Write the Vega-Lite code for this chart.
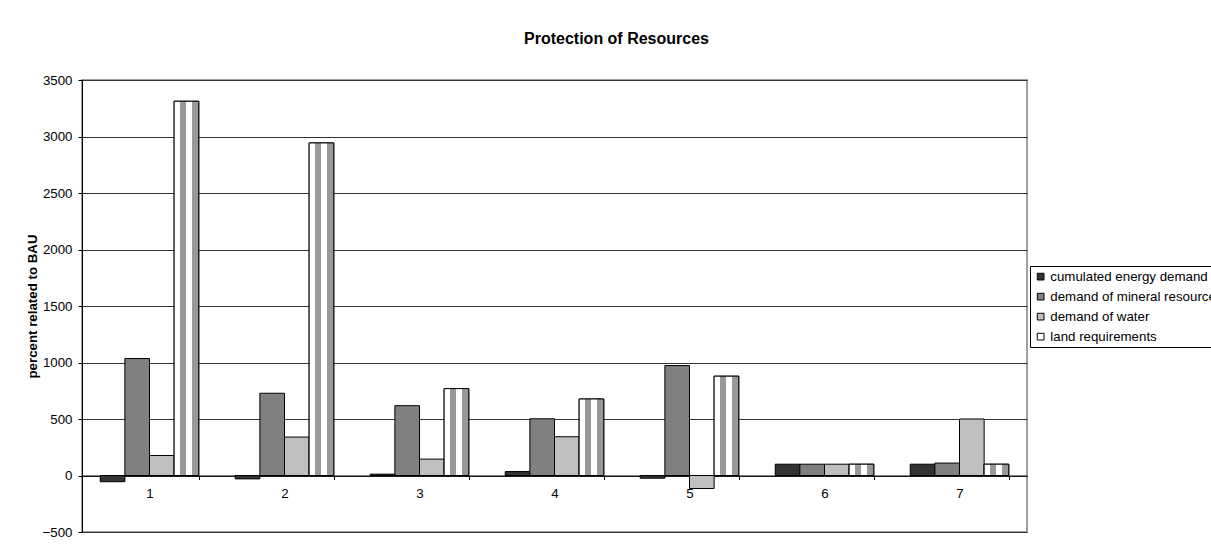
{
  "$schema": "https://vega.github.io/schema/vega-lite/v6.json",
  "autosize": {"type": "none"},
  "width": 945,
  "height": 452,
  "padding": {"left": 82, "top": 80, "right": 184, "bottom": 12},
  "background": "white",
  "title": {
    "text": "Protection of Resources",
    "font": "Liberation Sans",
    "fontSize": 16,
    "fontWeight": "bold",
    "color": "#000000",
    "anchor": "middle",
    "frame": "group",
    "dx": 62,
    "offset": 26
  },
  "config": {
    "font": "Liberation Sans",
    "view": {"stroke": "#808080", "strokeWidth": 1.5}
  },
  "data": {
    "values": [
      {"cat": "1", "series": "cumulated energy demand", "value": -55},
      {"cat": "1", "series": "demand of mineral resources", "value": 1035},
      {"cat": "1", "series": "demand of water", "value": 177},
      {"cat": "1", "series": "land requirements", "value": 3312},
      {"cat": "2", "series": "cumulated energy demand", "value": -30},
      {"cat": "2", "series": "demand of mineral resources", "value": 728},
      {"cat": "2", "series": "demand of water", "value": 340},
      {"cat": "2", "series": "land requirements", "value": 2943},
      {"cat": "3", "series": "cumulated energy demand", "value": 12},
      {"cat": "3", "series": "demand of mineral resources", "value": 618},
      {"cat": "3", "series": "demand of water", "value": 145},
      {"cat": "3", "series": "land requirements", "value": 769},
      {"cat": "4", "series": "cumulated energy demand", "value": 35},
      {"cat": "4", "series": "demand of mineral resources", "value": 502},
      {"cat": "4", "series": "demand of water", "value": 343},
      {"cat": "4", "series": "land requirements", "value": 677},
      {"cat": "5", "series": "cumulated energy demand", "value": -24},
      {"cat": "5", "series": "demand of mineral resources", "value": 973},
      {"cat": "5", "series": "demand of water", "value": -115},
      {"cat": "5", "series": "land requirements", "value": 879},
      {"cat": "6", "series": "cumulated energy demand", "value": 100},
      {"cat": "6", "series": "demand of mineral resources", "value": 100},
      {"cat": "6", "series": "demand of water", "value": 100},
      {"cat": "6", "series": "land requirements", "value": 100},
      {"cat": "7", "series": "cumulated energy demand", "value": 100},
      {"cat": "7", "series": "demand of mineral resources", "value": 110},
      {"cat": "7", "series": "demand of water", "value": 500},
      {"cat": "7", "series": "land requirements", "value": 100}
    ]
  },
  "encoding": {
    "x": {
      "field": "cat",
      "type": "nominal",
      "scale": {"paddingInner": 0.27, "paddingOuter": 0.135},
      "axis": {
        "title": null,
        "orient": "bottom",
        "offset": -56.5,
        "labelAngle": 0,
        "labelFontSize": 13.3,
        "labelColor": "#000000",
        "labelPadding": 7,
        "tickBand": "extent",
        "tickSize": 4,
        "tickColor": "#000000",
        "domainColor": "#000000",
        "grid": false
      }
    },
    "xOffset": {
      "field": "series",
      "type": "nominal",
      "scale": {
        "domain": ["cumulated energy demand", "demand of mineral resources", "demand of water", "land requirements"],
        "paddingInner": 0,
        "paddingOuter": 0
      }
    },
    "y": {
      "field": "value",
      "type": "quantitative",
      "scale": {"domain": [-500, 3500], "nice": false, "zero": true},
      "axis": {
        "title": "percent related to BAU",
        "titleFontSize": 13.3,
        "titleFontWeight": "bold",
        "titleColor": "#000000",
        "titlePadding": 3,
        "format": "d",
        "values": [-500, 0, 500, 1000, 1500, 2000, 2500, 3000, 3500],
        "labelFontSize": 13.3,
        "labelColor": "#000000",
        "labelPadding": 6,
        "tickSize": 4,
        "tickColor": "#000000",
        "domainColor": "#000000",
        "grid": true,
        "gridColor": "#333333",
        "gridWidth": 1
      }
    }
  },
  "layer": [
    {
      "mark": {"type": "bar", "stroke": "#000000", "strokeWidth": 1},
      "encoding": {
        "color": {
          "field": "series",
          "type": "nominal",
          "scale": {
            "domain": ["cumulated energy demand", "demand of mineral resources", "demand of water", "land requirements"],
            "range": ["#333333", "#808080", "#c0c0c0", "#ffffff"]
          },
          "legend": {
            "title": null,
            "orient": "none",
            "legendX": 948,
            "legendY": 186,
            "direction": "vertical",
            "symbolType": "square",
            "symbolSize": 45,
            "symbolStrokeColor": "#000000",
            "symbolStrokeWidth": 1,
            "labelFontSize": 13.3,
            "labelColor": "#000000",
            "labelOffset": 3,
            "labelLimit": 300,
            "rowPadding": 6,
            "padding": 4,
            "strokeColor": "#000000",
            "fillColor": "#ffffff"
          }
        }
      }
    },
    {
      "transform": [{"filter": "datum.series === 'land requirements'"}],
      "mark": {
        "type": "bar",
        "stroke": "#000000",
        "strokeWidth": 1,
        "fill": {
          "gradient": "linear",
          "x1": 0, "y1": 0, "x2": 1, "y2": 0,
          "stops": [
            {"offset": 0, "color": "#ffffff"},
            {"offset": 0.25, "color": "#ffffff"},
            {"offset": 0.25, "color": "#999999"},
            {"offset": 0.5, "color": "#999999"},
            {"offset": 0.5, "color": "#ffffff"},
            {"offset": 0.74, "color": "#ffffff"},
            {"offset": 0.74, "color": "#999999"},
            {"offset": 1, "color": "#999999"}
          ]
        }
      }
    }
  ]
}
